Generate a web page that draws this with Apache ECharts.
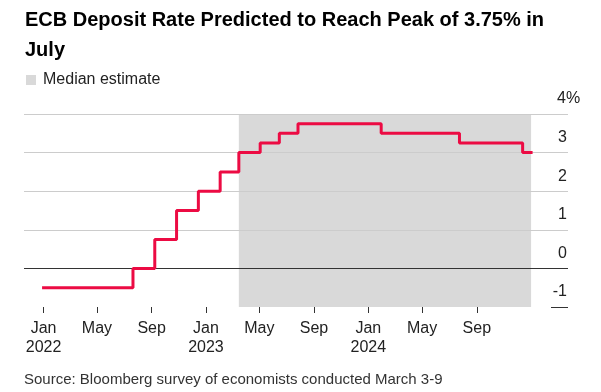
<!DOCTYPE html>
<html>
<head>
<meta charset="utf-8">
<script src="https://cdn.jsdelivr.net/npm/echarts@6/dist/echarts.min.js"></script>
<style>
html,body{margin:0;padding:0;background:#fff;}
#chart{width:601px;height:392px;}
</style>
</head>
<body>
<div id="chart"></div>
<script>
// ---- data ----
const titleText = 'ECB Deposit Rate Predicted to Reach Peak of 3.75% in\nJuly';
const sourceText = 'Source: Bloomberg survey of economists conducted March 3-9';
const legendLabel = 'Median estimate';
const stepDates = ['2022-01-01','2022-07-21','2022-09-08','2022-10-27','2022-12-15','2023-02-02','2023-03-16','2023-05-03','2023-06-15','2023-07-27','2024-01-30','2024-07-24','2024-12-13','2025-01-01'];
const rates = [-0.5, 0, 0.75, 1.5, 2.0, 2.5, 3.0, 3.25, 3.5, 3.75, 3.5, 3.25, 3.0, 3.0];
const forecastStart = '2023-03-16';
const forecastEnd = '2025-01-01';
const xTickDates = ['2022-01-01','2022-05-01','2022-09-01','2023-01-01','2023-05-01','2023-09-01','2024-01-01','2024-05-01','2024-09-01'];
const monthNames = ['Jan','Feb','Mar','Apr','May','Jun','Jul','Aug','Sep','Oct','Nov','Dec'];
const yMin = -1, yMax = 4, yStep = 1;
const xMinDate = '2021-11-18';
const xMaxDate = '2025-03-25';

function ts(s){ const p = s.split('-').map(Number); return new Date(p[0], p[1]-1, p[2]).getTime(); }

const FONT = '"Liberation Sans", Arial, Helvetica, sans-serif';
const chart = echarts.init(document.getElementById('chart'), null, {renderer:'canvas'});

const option = {
  animation: false,
  backgroundColor: '#fff',
  title: [
    { text: titleText, left: 25, top: 5, padding: 0,
      textStyle: { fontFamily: FONT, fontSize: 20, fontWeight: 'bold', color: '#000', lineHeight: 30 } },
    { text: sourceText, left: 24, top: 370, padding: 0,
      textStyle: { fontFamily: FONT, fontSize: 15, fontWeight: 'normal', color: '#333', lineHeight: 19 } }
  ],
  legend: {
    left: 26, top: 72, padding: 0,
    itemWidth: 10, itemHeight: 10, itemGap: 10,
    data: [{ name: legendLabel, icon: 'rect', itemStyle: { color: '#d9d9d9' } }],
    textStyle: { fontFamily: FONT, fontSize: 16, color: '#222', padding: [0,0,0,2] }
  },
  grid: { left: 24, right: 33, top: 114, bottom: 85, containLabel: false },
  xAxis: {
    type: 'value',
    min: ts(xMinDate), max: ts(xMaxDate),
    axisLine: { show: false, onZero: false },
    splitLine: { show: false },
    axisTick: { show: true, length: 6, lineStyle: { color: '#333', width: 1 },
      customValues: xTickDates.map(ts) },
    axisLabel: {
      customValues: xTickDates.map(ts),
      margin: 12,
      fontFamily: FONT, fontSize: 16, color: '#222', lineHeight: 19,
      hideOverlap: false,
      formatter: function (v) {
        const d = new Date(v);
        const m = monthNames[d.getMonth()];
        return d.getMonth() === 0 ? m + '\n' + d.getFullYear() : m;
      }
    }
  },
  yAxis: [
    {
      type: 'value', position: 'right',
      min: yMin, max: yMax, interval: yStep,
      axisLine: { show: false },
      axisTick: { show: false },
      splitLine: { show: true, lineStyle: { color: ['rgba(0,0,0,0)', '#333', '#cccccc', '#cccccc', '#cccccc', '#cccccc'], width: 1 } },
      axisLabel: {
        inside: true, margin: 1,
        verticalAlign: 'bottom', align: 'right',
        padding: [0,0,7,0],
        fontFamily: FONT, fontSize: 16, color: '#222',
        formatter: function (v) { return v === yMax ? '{n|' + v + '}{p|%}' : String(v); },
        rich: {
          n: { fontFamily: FONT, fontSize: 16, color: '#222', align: 'left' },
          p: { fontFamily: FONT, fontSize: 16, color: '#222', width: 1, align: 'left' }
        }
      }
    },
    {
      type: 'value', position: 'right',
      min: yMin, max: yMax, interval: yStep,
      axisLine: { show: false },
      axisLabel: { show: false },
      splitLine: { show: false },
      axisTick: { show: true, inside: true, length: 17, customValues: [yMin], lineStyle: { color: '#333', width: 1 } }
    }
  ],
  series: [
    {
      name: legendLabel, type: 'line', data: [], z: -1, color: '#d9d9d9',
      markArea: {
        silent: true, z: -1,
        itemStyle: { color: '#d9d9d9' },
        data: [[{ xAxis: ts(forecastStart) }, { xAxis: ts(forecastEnd) }]]
      }
    },
    {
      name: 'Deposit rate', type: 'line', step: 'end', z: 5,
      showSymbol: false, symbol: 'none',
      lineStyle: { color: '#ec0b43', width: 3, cap: 'square' },
      data: stepDates.map((d, i) => [ts(d), rates[i]])
    }
  ]
};
chart.setOption(option);
</script>
</body>
</html>
